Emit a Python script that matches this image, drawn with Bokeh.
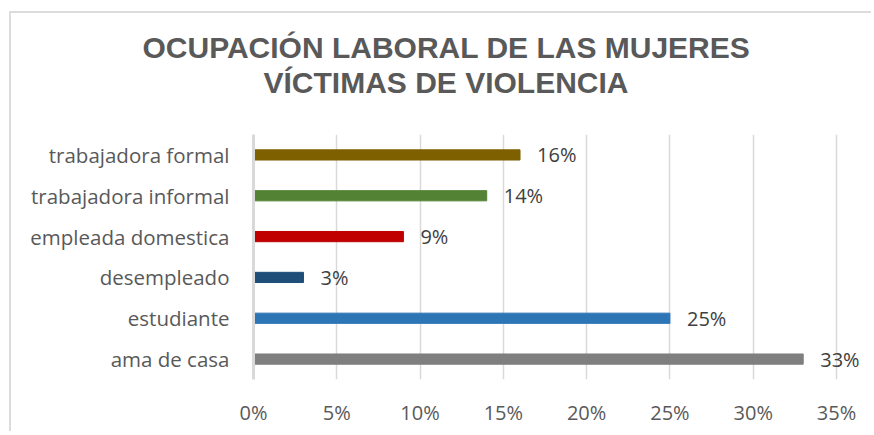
from bokeh.plotting import figure
from bokeh.models import ColumnDataSource, Range1d, FactorRange, FixedTicker, Title
from bokeh.core.properties import value
from bokeh.embed import file_html
from bokeh.resources import INLINE

# Data (bottom to top)
categories = ["ama de casa", "estudiante", "desempleado", "empleada domestica",
              "trabajadora informal", "trabajadora formal"]
values = [0.33, 0.25, 0.03, 0.09, 0.14, 0.16]
value_labels = ["33%", "25%", "3%", "9%", "14%", "16%"]
bar_colors = ["#7F7F7F", "#2E75B6", "#1F4E79", "#C00000", "#548235", "#7F6000"]
tick_values = [0, 0.05, 0.10, 0.15, 0.20, 0.25, 0.30, 0.35]
tick_labels = ["0%", "5%", "10%", "15%", "20%", "25%", "30%", "35%"]
title_lines = ["OCUPACIÓN LABORAL DE LAS MUJERES", "VÍCTIMAS DE VIOLENCIA"]

src = ColumnDataSource(dict(cat=categories, val=values, lab=value_labels, col=bar_colors))

p = figure(width=862, height=420, output_backend="svg", toolbar_location=None, title=None,
           x_range=Range1d(0, 0.3722), y_range=FactorRange(*categories, range_padding=0),
           min_border_left=242, min_border_right=0, min_border_top=121, min_border_bottom=54)
p.margin = (11, 0, 0, 9)
p.styles = {"border-top": "2px solid #dcdcdc", "border-left": "2px solid #dcdcdc"}
p.outline_line_color = None
p.background_fill_color = "white"
p.border_fill_color = "white"

p.hbar(y="cat", right="val", left=0, height=0.25, color="col", source=src)
p.text(x="val", y="cat", text="lab", x_offset=17, text_baseline="middle", text_align="left",
       text_font=value("Open Sans"), text_font_size="20px", text_color="#404040", source=src)

# Grid
p.ygrid.grid_line_color = None
p.xgrid.grid_line_color = "#d9d9d9"
p.xgrid.grid_line_width = 1.5
p.xgrid.ticker = FixedTicker(ticks=tick_values)

# X axis
xa = p.xaxis[0]
xa.ticker = FixedTicker(ticks=tick_values)
xa.major_label_overrides = {v: l for v, l in zip(tick_values, tick_labels)}
xa.axis_line_color = None
xa.major_tick_line_color = None
xa.minor_tick_line_color = None
xa.major_label_text_font = "Open Sans"
xa.major_label_text_font_size = "20px"
xa.major_label_text_color = "#595959"
xa.major_label_standoff = 13

# Y axis
ya = p.yaxis[0]
ya.axis_line_color = "#d9d9d9"
ya.axis_line_width = 3
ya.major_tick_line_color = None
ya.minor_tick_line_color = None
ya.major_label_text_font = "Open Sans"
ya.major_label_text_font_size = "20.5px"
ya.major_label_text_color = "#595959"
ya.major_label_standoff = 18

# Spacer between plot area and title
p.add_layout(Title(text=" ", text_font_size="1px", standoff=33), "above")
# Title (second line added first so it sits closest to the plot)
for txt, off in [(title_lines[1], 10), (title_lines[0], -111)]:
    p.add_layout(Title(text=txt, align="left", offset=off,
                       text_font="Liberation Sans", text_font_style="bold",
                       text_font_size="30px", text_color="#595959", standoff=0), "above")

open("out.html", "w").write(file_html(p, INLINE))
